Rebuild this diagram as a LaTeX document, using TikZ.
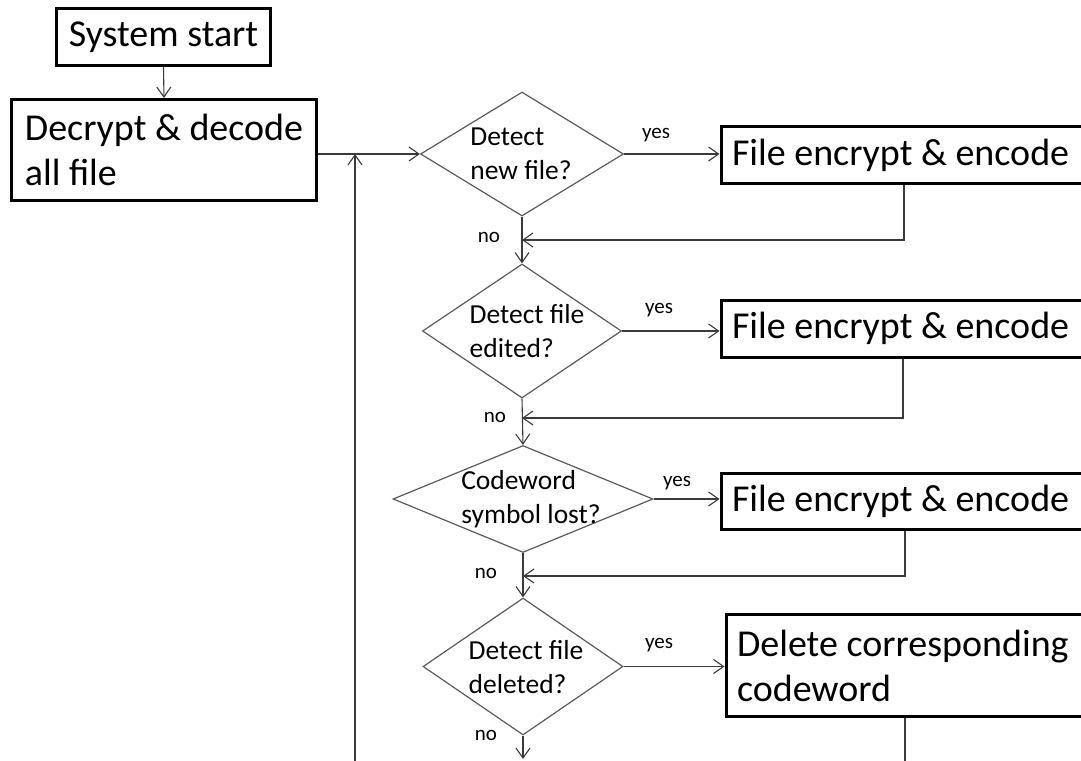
\documentclass[tikz,border=0pt]{standalone}
\usepackage{fontspec}
\setmainfont{Carlito}
\usetikzlibrary{arrows.meta,shapes.geometric}
\definecolor{diagray}{HTML}{5A5A5A}
\definecolor{conncol}{HTML}{3A3A3A}
\begin{document}
\begin{tikzpicture}[x=1pt,y=-1pt,
  box/.style={draw=black, line width=3pt, inner xsep=11pt, inner ysep=0pt,
    font=\fontsize{38}{45}\selectfont},
  rbox/.style={box, anchor=west, text width=380pt, align=flush left},
  dia/.style={draw=diagray, line width=1.2pt, shape=diamond, inner sep=0pt},
  dtext/.style={align=left, font=\fontsize{27.5}{34}\selectfont, inner sep=0pt},
  lbl/.style={font=\fontsize{21}{25}\selectfont, inner sep=0pt},
  conn/.style={draw=conncol, line width=1.1pt},
  arr/.style={conn, -{Straight Barb[length=10pt,width=14pt,line width=1.1pt]}},
]
\useasboundingbox (0,0) rectangle (1081,760);
\clip (0,0) rectangle (1081,760);

% boxes
\node[box, align=center, minimum width=214pt, minimum height=57pt] (start) at (163.5,37) {System start};
\node[box, align=left, minimum width=305pt, minimum height=101pt] (dec) at (164,150) {Decrypt \& decode\\all file};
\node[rbox, minimum height=57pt] (b1) at (719.5,155) {File encrypt \& encode};
\node[rbox, minimum height=57pt] (b2) at (719.5,328.5) {File encrypt \& encode};
\node[rbox, minimum height=56pt] (b3) at (719.5,501) {File encrypt \& encode};
\node[rbox, minimum height=102pt] (b4) at (724.5,665.5) {Delete corresponding\\codeword};

% diamonds
\node[dia, minimum width=203pt, minimum height=124pt] (d1) at (522,154) {};
\node[dia, minimum width=199pt, minimum height=134pt] (d2) at (522,331) {};
\node[dia, minimum width=260pt, minimum height=107pt] (d3) at (523,499) {};
\node[dia, minimum width=200pt, minimum height=137pt] (d4) at (523,666.5) {};

\node[dtext] (t1) at (521,154) {Detect\\new file?};
\node[dtext] (t2) at (527,331) {Detect file\\edited?};
\node[dtext] (t3) at (531,499) {Codeword\\symbol lost?};
\node[dtext] (t4) at (526,667) {Detect file\\deleted?};

% labels
\node[lbl] (y1) at (656,135) {yes};
\node[lbl] (y2) at (659,310) {yes};
\node[lbl] (y3) at (677,483) {yes};
\node[lbl] (y4) at (659,645) {yes};
\node[lbl] (n1) at (489,237) {no};
\node[lbl] (n2) at (495,417) {no};
\node[lbl] (n3) at (486,573) {no};
\node[lbl] (n4) at (486,735) {no};

% coordinates
\coordinate (r1) at (904,240);
\coordinate (r2) at (903,418);
\coordinate (r3) at (905,576);
\coordinate (r4) at (905,765);
\coordinate (fb) at (355,765);
\coordinate (out) at (523,759);

% connectors
\draw[arr] (start.south) -- (dec.north);
\draw[arr] (dec.east |- d1.west) -- (d1.west);
\draw[arr] (fb) -- (fb |- d1.west);
\draw[arr] (d1.east) -- (b1.west |- d1.east);
\draw[arr] (d2.east) -- (b2.west |- d2.east);
\draw[arr] (d3.east) -- (b3.west |- d3.east);
\draw[arr] (d4.east) -- (b4.west |- d4.east);
\draw[arr] (d1.south) -- (d2.north);
\draw[arr] (d2.south) -- (d3.north);
\draw[arr] (d3.south) -- (d4.north);
\draw[arr] (d4.south) -- (out);
\draw[arr] (b1.south -| r1) -- (r1) -- (d1.south |- r1);
\draw[arr] (b2.south -| r2) -- (r2) -- (d2.south |- r2);
\draw[arr] (b3.south -| r3) -- (r3) -- (d3.south |- r3);
\draw[conn] (b4.south -| r4) -- (r4);
\end{tikzpicture}
\end{document}
